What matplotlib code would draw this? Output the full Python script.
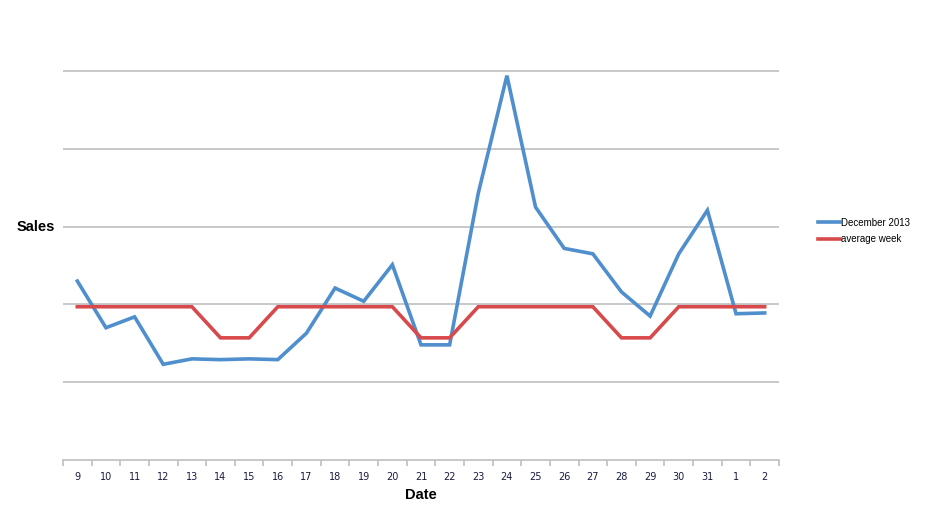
import matplotlib
matplotlib.use("Agg")
import matplotlib.pyplot as plt
import numpy as np

# Data (satuan = satu garis grid)
dates = ["9", "10", "11", "12", "13", "14", "15", "16", "17", "18", "19", "20", "21",
         "22", "23", "24", "25", "26", "27", "28", "29", "30", "31", "1", "2"]
december_2013 = [2.30, 1.70, 1.84, 1.23, 1.30, 1.29, 1.30, 1.29, 1.63, 2.21, 2.04, 2.51, 1.48,
                 1.48, 3.43, 4.94, 3.25, 2.72, 2.65, 2.16, 1.85, 2.65, 3.21, 1.88, 1.89]
average_week = [1.97, 1.97, 1.97, 1.97, 1.97, 1.57, 1.57, 1.97, 1.97, 1.97, 1.97, 1.97, 1.57,
                1.57, 1.97, 1.97, 1.97, 1.97, 1.97, 1.57, 1.57, 1.97, 1.97, 1.97, 1.97]

plt.rcParams['font.family'] = ['Liberation Sans', 'DejaVu Sans']

fig = plt.figure(figsize=(9.25, 5.27), dpi=100)
ymax = 5.05
px_unit = (460 - 71) / 5.0
top_px = 460 - ymax * px_unit
ax = fig.add_axes([63 / 925, 1 - 460 / 527, (779 - 63) / 925, (460 - top_px) / 527])

x = np.arange(len(dates))
ax.plot(x, december_2013, color="#4F8FCD", lw=2.6, label="December 2013", solid_joinstyle="miter", zorder=3)
ax.plot(x, average_week, color="#D8494B", lw=2.6, label="average week", solid_joinstyle="miter", zorder=3)

ax.set_xlim(-0.5, len(dates) - 0.5)
ax.set_ylim(0, ymax)

# grid horizontal
ax.set_yticks([1, 2, 3, 4, 5])
ax.set_yticklabels([])
ax.tick_params(axis="y", length=0)
ax.grid(axis="y", color="#C4C4C4", lw=1.3)

ax.set_xticks(x)
ax.set_xticklabels(dates, fontsize=7, color="#1a1a40", family=["DejaVu Sans"])
ax.set_xticks(np.arange(-0.5, len(dates)), minor=True)
ax.tick_params(axis="x", which="major", length=0, pad=9)
ax.tick_params(axis="x", which="minor", length=4, width=1.3, color="#C4C4C4", direction="out")

for s in ["top", "right", "left"]:
    ax.spines[s].set_visible(False)
ax.spines["bottom"].set_color("#C4C4C4")
ax.spines["bottom"].set_linewidth(1.3)

fig.text(36 / 925, 1 - 227 / 527, "Sales", fontsize=10.5, fontweight="bold", ha="center", va="center")
fig.text(421 / 925, 1 - 495 / 527, "Date", fontsize=10.5, fontweight="bold", ha="center", va="center")

fig.legend(loc="center left", bbox_to_anchor=(809 / 925, 1 - 231 / 527), frameon=False,
           handlelength=2.3, handletextpad=0.05, labelspacing=0.65,
           prop={"family": "Liberation Sans", "size": 7})

fig.savefig("out.png", dpi=100)
